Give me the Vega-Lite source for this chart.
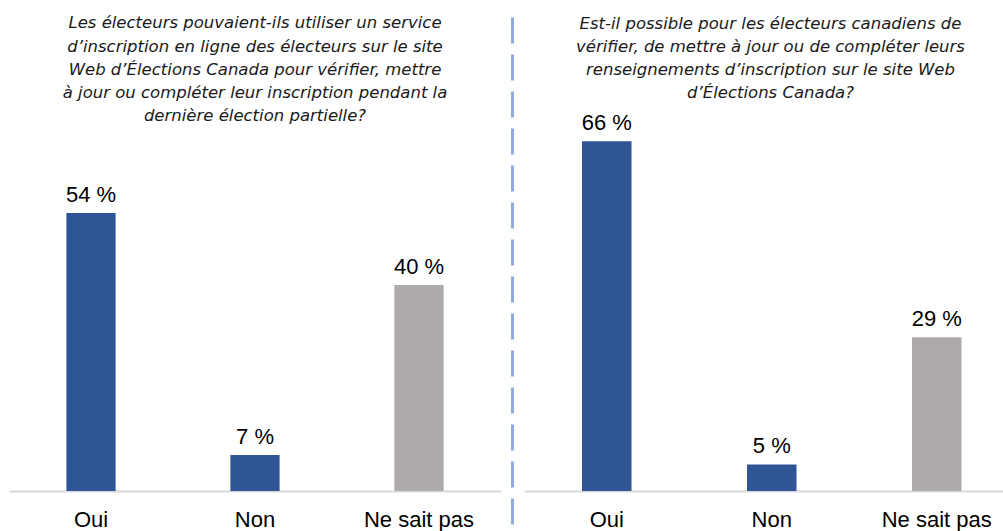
{
  "$schema": "https://vega.github.io/schema/vega-lite/v6.json",
  "padding": {"left": 9, "top": 15, "right": 0, "bottom": 0},
  "background": "white",
  "bounds": "flush",
  "spacing": 23,
  "config": {
    "view": {"stroke": null},
    "font": "Liberation Sans",
    "title": {"font": "DejaVu Sans", "fontStyle": "italic", "fontWeight": "normal", "fontSize": 16.5, "color": "#1a1a1a", "lineHeight": 23.3, "anchor": "middle", "frame": "group", "baseline": "top"}
  },
  "datasets": {
    "a": [
      {"cat": "Oui", "value": 54, "label": "54 %"},
      {"cat": "Non", "value": 7, "label": "7 %"},
      {"cat": "Ne sait pas", "value": 40, "label": "40 %"}
    ],
    "b": [
      {"cat": "Oui", "value": 66, "label": "66 %"},
      {"cat": "Non", "value": 5, "label": "5 %"},
      {"cat": "Ne sait pas", "value": 29, "label": "29 %"}
    ]
  },
  "hconcat": [
    {
      "width": 492,
      "height": 516,
      "data": {"name": "a"},
      "title": {"text": ["Les électeurs pouvaient-ils utiliser un service", "d’inscription en ligne des électeurs sur le site", "Web d’Élections Canada pour vérifier, mettre", "à jour ou compléter leur inscription pendant la", "dernière élection partielle?"], "offset": -110},
      "encoding": {
        "x": {"field": "cat", "type": "nominal", "sort": ["Oui", "Non", "Ne sait pas"],
          "scale": {"paddingInner": 0.7, "paddingOuter": 0.35},
          "axis": {"title": null, "labelAngle": 0, "labelFontSize": 22, "labelColor": "#000000", "ticks": false, "domainColor": "#D9D9D9", "domainWidth": 2, "offset": -40, "labelPadding": 18}},
        "y": {"field": "value", "type": "quantitative", "scale": {"domain": [-7.767, 92.43], "nice": false, "zero": false}, "axis": null}
      },
      "layer": [
        {"mark": {"type": "bar"}, "encoding": {"y2": {"datum": 0}, "color": {"field": "cat", "type": "nominal", "scale": {"domain": ["Oui", "Non", "Ne sait pas"], "range": ["#2F5597", "#2F5597", "#AEAAAA"]}, "legend": null}}},
        {"mark": {"type": "text", "fontSize": 22, "baseline": "alphabetic", "dy": -11, "color": "#000000"}, "encoding": {"text": {"field": "label"}}}
      ]
    },
    {
      "width": 479,
      "height": 516,
      "data": {"name": "b"},
      "title": {"text": ["Est-il possible pour les électeurs canadiens de", "vérifier, de mettre à jour ou de compléter leurs", "renseignements d’inscription sur le site Web", "d’Élections Canada?"], "dx": 7, "offset": -87},
      "encoding": {
        "x": {"field": "cat", "type": "nominal", "sort": ["Oui", "Non", "Ne sait pas"],
          "scale": {"paddingInner": 0.7, "paddingOuter": 0.3015, "align": 0.583},
          "axis": {"title": null, "labelAngle": 0, "labelFontSize": 22, "labelColor": "#000000", "ticks": false, "domainColor": "#D9D9D9", "domainWidth": 2, "offset": -40, "labelPadding": 18}},
        "y": {"field": "value", "type": "quantitative", "scale": {"domain": [-7.547, 89.81], "nice": false, "zero": false},
          "axis": {"title": null, "labels": false, "ticks": false, "grid": false, "domain": true, "domainColor": "#8FAADC", "domainWidth": 3, "domainDash": [26, 11], "domainDashOffset": 30, "offset": 12}}
      },
      "layer": [
        {"mark": {"type": "bar"}, "encoding": {"y2": {"datum": 0}, "color": {"field": "cat", "type": "nominal", "scale": {"domain": ["Oui", "Non", "Ne sait pas"], "range": ["#2F5597", "#2F5597", "#AEAAAA"]}, "legend": null}}},
        {"mark": {"type": "text", "fontSize": 22, "baseline": "alphabetic", "dy": -11, "color": "#000000"}, "encoding": {"text": {"field": "label"}}}
      ]
    }
  ]
}
